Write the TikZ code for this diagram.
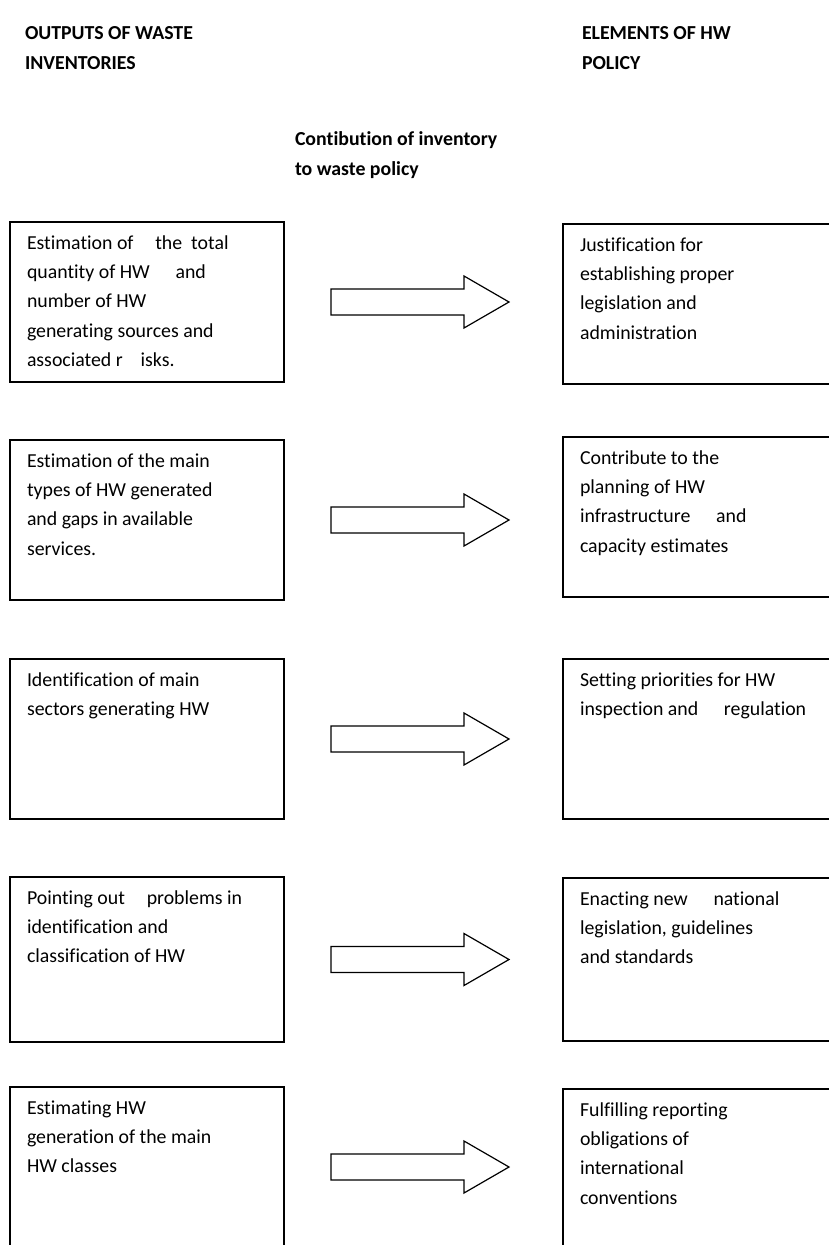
\documentclass[tikz,border=0pt]{standalone}
\usepackage{fontspec}
\setmainfont{Carlito}[Ligatures=NoCommon]
\usetikzlibrary{calc}
\begin{document}
\begin{tikzpicture}[x=1bp,y=-1bp,
  every node/.style={inner sep=0pt, outer sep=0pt},
  txt/.style={anchor=north west, align=left,
    font=\fontsize{19.9}{29.5}\selectfont},
  head/.style={txt, font=\fontsize{19.9}{30}\selectfont\bfseries},
  box/.style={draw, line width=1.2bp, anchor=north west,
    minimum width=274bp, minimum height=160bp},
  rbox/.style={box, minimum width=300bp},
  blockarrow/.style={draw, line width=1.2bp, line join=miter, fill=white}
]
\useasboundingbox (0,0) rectangle (829,1245);

% column headings
\node[head] (hl) at (25,19) {\strut OUTPUTS OF WASTE\\INVENTORIES};
\node[head] (hr) at (582,19) {\strut ELEMENTS OF HW\\POLICY};
\node[head] (hm) at (295,125) {\strut Contibution of inventory\\to waste policy};

% left column: inventory outputs
\node[box] (L1) at (10,222) {};
\node[box] (L2) at (10,440) {};
\node[box] (L3) at (10,659) {};
\node[box, minimum height=165bp] (L4) at (10,877) {};
\node[box] (L5) at (10,1087) {};

% right column: policy elements (running off the right edge)
\node[rbox] (R1) at (563,224) {};
\node[rbox] (R2) at (563,437) {};
\node[rbox] (R3) at (563,659) {};
\node[rbox, minimum height=163bp] (R4) at (563,878) {};
\node[rbox] (R5) at (563,1089) {};

% box texts
\node[txt] (tL1) at ($(L1.north west)+(17,6.5)$) {\strut Estimation of\hspace{1.1em}the\hspace{0.45em}total\\quantity of HW\hspace{1.3em}and\\number of HW\\generating sources and\\associated r\hspace{0.9em}isks.};
\node[txt] (tL2) at ($(L2.north west)+(17,6.5)$) {\strut Estimation of the main\\types of HW generated\\and gaps in available\\services.};
\node[txt] (tL3) at ($(L3.north west)+(17,6.5)$) {\strut Identification of main\\sectors generating HW};
\node[txt] (tL4) at ($(L4.north west)+(17,6.5)$) {\strut Pointing out\hspace{1.1em}problems in\\identification and\\classification of HW};
\node[txt] (tL5) at ($(L5.north west)+(17,6.5)$) {\strut Estimating HW\\generation of the main\\HW classes};

\node[txt] (tR1) at ($(R1.north west)+(17,6.5)$) {\strut Justification for\\establishing proper\\legislation and\\administration};
\node[txt] (tR2) at ($(R2.north west)+(17,6.5)$) {\strut Contribute to the\\planning of HW\\infrastructure\hspace{1.3em}and\\capacity estimates};
\node[txt] (tR3) at ($(R3.north west)+(17,6.5)$) {\strut Setting priorities for HW\\inspection and\hspace{1.3em}regulation};
\node[txt] (tR4) at ($(R4.north west)+(17,6.5)$) {\strut Enacting new\hspace{1.3em}national\\legislation, guidelines\\and standards};
\node[txt] (tR5) at ($(R5.north west)+(17,6.5)$) {\strut Fulfilling reporting\\obligations of\\international\\conventions};

% block arrows from each output to its policy element
\foreach \i in {1,...,5}{
  \coordinate (a\i) at ($(L\i.east)+(47,0)$);
  \draw[blockarrow] ($(a\i)+(0,-13)$) -- ++(133,0) -- ++(0,-13)
     -- ($(a\i)+(178,0)$) -- ($(a\i)+(133,26)$) -- ++(0,-13)
     -- ($(a\i)+(0,13)$) -- cycle;
}
\end{tikzpicture}
\end{document}
